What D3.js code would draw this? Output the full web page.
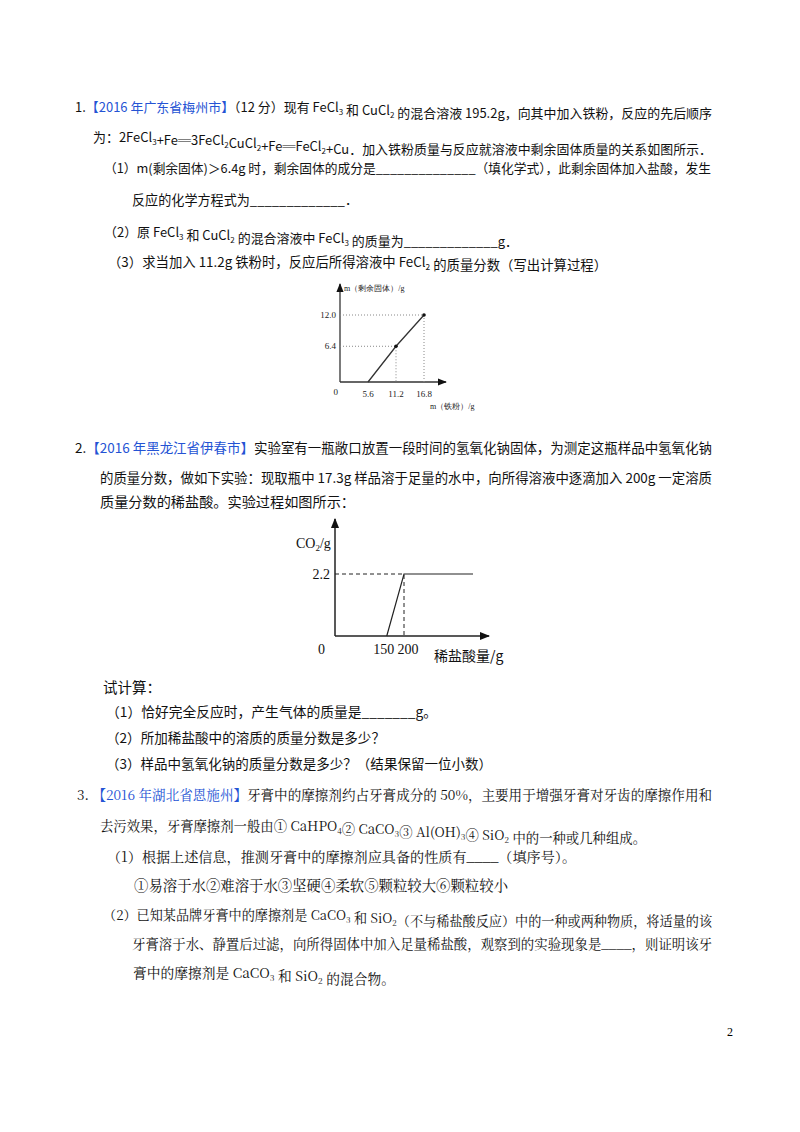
<!DOCTYPE html>
<html><head><meta charset="utf-8">
<script src="https://cdn.jsdelivr.net/npm/d3@7"></script>
<style>body{margin:0;background:#fff}</style></head>
<body><svg id="s" width="800" height="1132"></svg>
<script>
// Chart 1 data
const ironX = [5.6, 11.2, 16.8];
const solidY = [0, 6.4, 12.0];
const c1XTicks = ["5.6","11.2","16.8"];
const c1YTicks = ["6.4","12.0"];
// Chart 2 data
const acidX = [150, 200, 400];
const co2Y = [0, 2.2, 2.2];
const c2XTicks = ["150","200"];
const c2YTicks = ["2.2"];

const svg = d3.select("#s");
const SANS = "'Noto Sans CJK SC','Noto Sans',sans-serif";
const BLUE = "#2453d4";
const lines = [
 ["1.{【2016 年广东省梅州市】}（12 分）现有 FeCl~3 和 CuCl~2 的混合溶液 195.2g，向其中加入铁粉，反应的先后顺序",75,107,712],
 ["为：2FeCl~3+Fe═3FeCl~2CuCl~2+Fe═FeCl~2+Cu．加入铁粉质量与反应就溶液中剩余固体质量的关系如图所示．",93,137,712],
 ["（1）m(剩余固体)＞6.4g 时，剩余固体的成分是______________（填化学式），此剩余固体加入盐酸，发生",104,168,711],
 ["反应的化学方程式为_____________．",132,200,358],
 ["（2）原 FeCl~3 和 CuCl~2 的混合溶液中 FeCl~3 的质量为_____________g．",104,232,518],
 ["（3）求当加入 11.2g 铁粉时，反应后所得溶液中 FeCl~2 的质量分数（写出计算过程）",108,262,607],
 ["2.{【2016 年黑龙江省伊春市】}实验室有一瓶敞口放置一段时间的氢氧化钠固体，为测定这瓶样品中氢氧化钠",75,448,712],
 ["的质量分数，做如下实验：现取瓶中 17.3g 样品溶于足量的水中，向所得溶液中逐滴加入 200g 一定溶质",100,478,712],
 ["质量分数的稀盐酸。实验过程如图所示：",100,502,355],
 ["试计算：",103,688,null],
 ["（1）恰好完全反应时，产生气体的质量是_______g。",106,712,437],
 ["（2）所加稀盐酸中的溶质的质量分数是多少？",106,738,385],
 ["（3）样品中氢氧化钠的质量分数是多少？（结果保留一位小数）",106,764,492],
 ["3.  {【2016 年湖北省恩施州】}牙膏中的摩擦剂约占牙膏成分的 50%，主要用于增强牙膏对牙齿的摩擦作用和",77,795,712,1],
 ["去污效果，牙膏摩擦剂一般由① CaHPO~4② CaCO~3③ Al(OH)~3④ SiO~2 中的一种或几种组成。",100,826,646,1],
 ["（1）根据上述信息，推测牙膏中的摩擦剂应具备的性质有____（填序号）。",107,857,576,1],
 ["①易溶于水②难溶于水③坚硬④柔软⑤颗粒较大⑥颗粒较小",134,886,508,1],
 ["（2）已知某品牌牙膏中的摩擦剂是 CaCO~3 和 SiO~2（不与稀盐酸反应）中的一种或两种物质，将适量的该",103,915,712,1],
 ["牙膏溶于水、静置后过滤，向所得固体中加入足量稀盐酸，观察到的实验现象是____，则证明该牙",132,944,712,1],
 ["膏中的摩擦剂是 CaCO~3 和 SiO~2 的混合物。",133,973,395,1]
];
lines.forEach(([t,x,y,ex,serif])=>{
  const tx = svg.append("text").attr("x",x).attr("y",y+5).attr("font-size",14.5)
    .attr("font-family", serif?"'Noto Serif CJK SC','Liberation Serif',"+SANS:SANS).attr("fill","#111");
  let blue=false, buf="";
  const flush=()=>{ if(buf){tx.append("tspan").attr("fill",blue?BLUE:"#111").text(buf); buf="";} };
  for(let i=0;i<t.length;i++){
    const ch=t[i];
    if(ch==="{"){flush();blue=true;}
    else if(ch==="}"){flush();blue=false;}
    else if(ch==="~"){flush(); i++; tx.append("tspan").attr("font-size",9).attr("dy",3).text(t[i]); tx.append("tspan").attr("dy",-3).text("");}
    else buf+=ch;
  }
  flush();
  if(ex==null) return;
  const target=ex-x;
  let len=tx.node().getComputedTextLength();
  if(len>target){
    const fs=14.5*target/len;
    tx.attr("font-size",fs);
    tx.selectAll("tspan").filter(function(){return this.getAttribute("font-size")==="9";}).attr("font-size",9*fs/14.5);
    len=tx.node().getComputedTextLength();
  }
  if(len<target) tx.attr("textLength",target).attr("lengthAdjust","spacing");
});
svg.append("text").attr("x",727).attr("y",1036).attr("font-size",12).attr("font-family","'Liberation Serif',serif").text("2");

svg.append("defs").append("marker").attr("id","ar").attr("viewBox","0 0 10 10").attr("refX",9).attr("refY",5)
  .attr("markerWidth",7).attr("markerHeight",7).attr("orient","auto")
  .append("path").attr("d","M0,1L10,5L0,9z").attr("fill","#111");

// ---- Chart 1
{
 const x=d3.scaleLinear().domain([0,16.8]).range([340,424]);
 const y=d3.scaleLinear().domain([0,12]).range([382,315]);
 const g=svg.append("g").attr("font-family","'Liberation Serif',serif").attr("font-size",9).attr("fill","#222");
 g.append("line").attr("x1",x(0)).attr("y1",y(0)).attr("x2",446).attr("y2",y(0)).attr("stroke","#333").attr("stroke-width",1.3).attr("marker-end","url(#ar)");
 g.append("line").attr("x1",x(0)).attr("y1",y(0)).attr("x2",x(0)).attr("y2",284).attr("stroke","#333").attr("stroke-width",1.3).attr("marker-end","url(#ar)");
 const pts=ironX.map((d,i)=>[x(d),y(solidY[i])]);
 pts.slice(1).forEach(p=>{
  g.append("path").attr("d",`M${x(0)},${p[1]}H${p[0]}V${y(0)}`).attr("fill","none").attr("stroke","#888").attr("stroke-dasharray","1,2");
 });
 g.append("path").attr("d",d3.line()(pts)).attr("fill","none").attr("stroke","#333").attr("stroke-width",1.3);
 pts.slice(1).forEach(p=>g.append("circle").attr("cx",p[0]).attr("cy",p[1]).attr("r",1.8).attr("fill","#111"));
 ironX.forEach((d,i)=>g.append("text").attr("x",x(d)).attr("y",y(0)+15).attr("text-anchor","middle").text(c1XTicks[i]));
 [6.4,12].forEach((d,i)=>g.append("text").attr("x",x(0)-4).attr("y",y(d)+3).attr("text-anchor","end").text(c1YTicks[i]));
 g.append("text").attr("x",x(0)-2).attr("y",y(0)+13).attr("text-anchor","end").text("0");
 g.append("text").attr("x",344).attr("y",291).attr("font-size",8).text("m（剩余固体）/g");
 g.append("text").attr("x",430).attr("y",409).attr("font-size",8).text("m（铁粉）/g");
}
// ---- Chart 2
{
 const x=d3.scaleLinear().domain([0,200]).range([335,404]);
 const y=d3.scaleLinear().domain([0,2.2]).range([636,574]);
 const g=svg.append("g").attr("font-family","'Liberation Serif',serif").attr("font-size",14).attr("fill","#111");
 g.append("line").attr("x1",x(0)).attr("y1",y(0)).attr("x2",489).attr("y2",y(0)).attr("stroke","#222").attr("stroke-width",1.5).attr("marker-end","url(#ar)");
 g.append("line").attr("x1",x(0)).attr("y1",y(0)).attr("x2",x(0)).attr("y2",519).attr("stroke","#222").attr("stroke-width",1.5).attr("marker-end","url(#ar)");
 g.append("path").attr("d",`M${x(0)},${y(2.2)}H${x(200)}V${y(0)}`).attr("fill","none").attr("stroke","#222").attr("stroke-dasharray","4,3");
 g.append("path").attr("d",d3.line()(acidX.map((d,i)=>[x(d),y(co2Y[i])]))).attr("fill","none").attr("stroke","#222").attr("stroke-width",1.2);
 g.append("text").attr("x",x(150)-3).attr("y",654).attr("text-anchor","middle").text(c2XTicks[0]);
 g.append("text").attr("x",x(200)+4).attr("y",654).attr("text-anchor","middle").text(c2XTicks[1]);
 g.append("text").attr("x",x(0)-5).attr("y",y(2.2)+5).attr("text-anchor","end").text(c2YTicks[0]);
 g.append("text").attr("x",x(0)-10).attr("y",654).attr("text-anchor","end").text("0");
 const yl=g.append("text").attr("x",296).attr("y",548).attr("font-size",14);
 yl.append("tspan").text("CO"); yl.append("tspan").attr("font-size",9).attr("dy",3).text("2"); yl.append("tspan").attr("dy",-3).text("/g");
 g.append("text").attr("x",434).attr("y",661).attr("font-family",SANS).attr("font-size",14).text("稀盐酸量/g");
}
</script></body></html>
